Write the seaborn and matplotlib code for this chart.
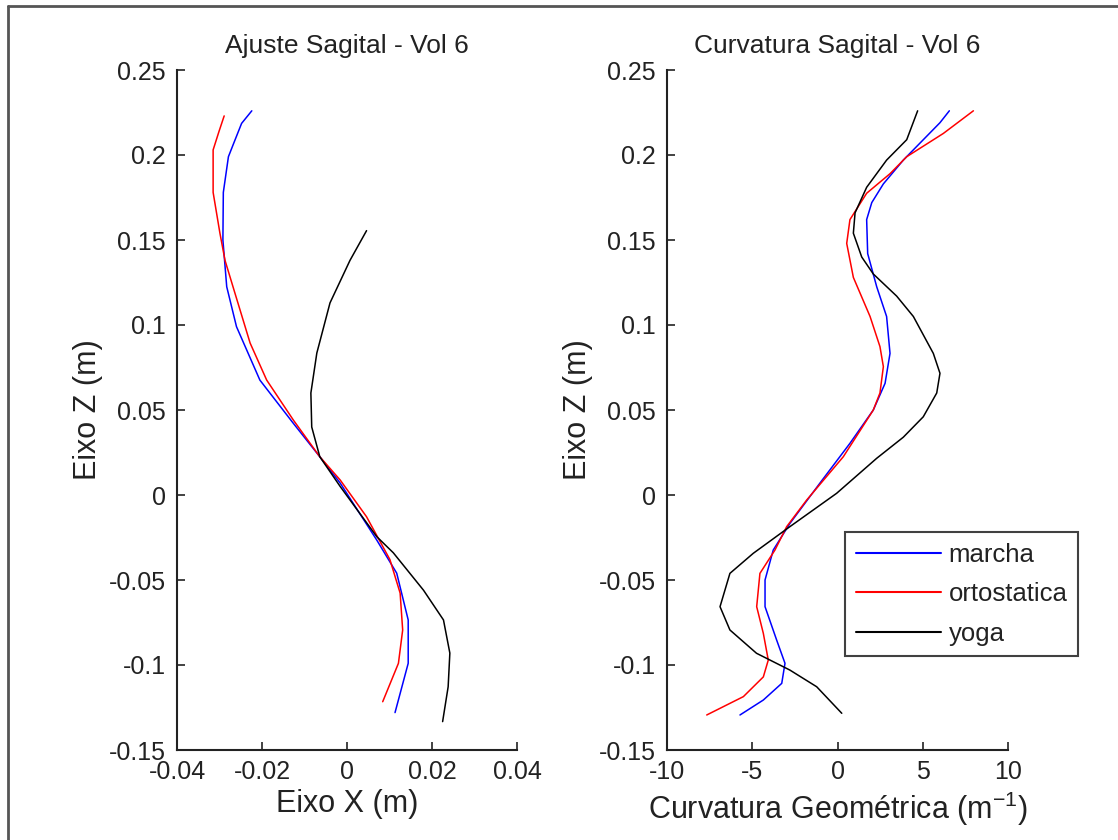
import matplotlib
matplotlib.use("Agg")
import matplotlib.pyplot as plt
from matplotlib.lines import Line2D
from matplotlib.ticker import FuncFormatter, FixedLocator
import seaborn as sns
import pandas as pd

# ---------------- data ----------------
series_names = ["marcha", "ortostatica", "yoga"]
series_colors = ["#0000FF", "#FF0000", "#000000"]

# Left panel: Ajuste Sagital (Eixo X vs Eixo Z)
fit_marcha_x = [-0.0224, -0.0248, -0.0268, -0.0279, -0.0291, -0.0292, -0.0283, -0.0260, -0.0205,
                -0.0127, -0.0064, -0.0016, 0.0070, 0.0117, 0.0144, 0.0144, 0.0113]
fit_marcha_z = [0.226, 0.2186, 0.206, 0.199, 0.178, 0.150, 0.1225, 0.099, 0.0676,
                0.0424, 0.0225, 0.007, -0.0265, -0.046, -0.0735, -0.099, -0.128]

fit_orto_x = [-0.0289, -0.0301, -0.0315, -0.0315, -0.0299, -0.0287, -0.0264, -0.0228, -0.0189,
              -0.0126, -0.0064, -0.0016, 0.0046, 0.0101, 0.0125, 0.0131, 0.0121, 0.0084]
fit_orto_z = [0.223, 0.214, 0.203, 0.178, 0.154, 0.138, 0.119, 0.0894, 0.0676,
              0.044, 0.0225, 0.0088, -0.0128, -0.038, -0.0577, -0.0794, -0.099, -0.1216]

fit_yoga_x = [0.0046, 0.0007, -0.0040, -0.0071, -0.0085, -0.0083, -0.0064, -0.0016, 0.0070,
              0.0109, 0.0180, 0.0227, 0.0242, 0.0238, 0.0225]
fit_yoga_z = [0.1555, 0.138, 0.113, 0.0835, 0.060, 0.040, 0.0225, 0.005, -0.0245,
              -0.034, -0.056, -0.0735, -0.093, -0.1128, -0.1333]

# Right panel: Curvatura Sagital (curvature vs Eixo Z)
curv_marcha_k = [6.56, 6.01, 3.86, 2.69, 2.01, 1.71, 1.77, 2.30, 2.88, 3.08, 2.79, 2.10,
                 0.73, -1.03, -2.79, -3.77, -4.25, -4.25, -3.57, -3.08, -3.27, -4.35, -5.72]
curv_marcha_z = [0.226, 0.219, 0.197, 0.183, 0.172, 0.162, 0.142, 0.1225, 0.105, 0.0833, 0.0657, 0.050,
                 0.0304, 0.007, -0.0167, -0.0324, -0.050, -0.0657, -0.0853, -0.099, -0.1108, -0.1206, -0.1294]

curv_orto_k = [7.97, 6.21, 4.06, 3.08, 1.71, 0.73, 0.54, 0.93, 1.91, 2.49, 2.69, 2.49, 2.10,
               0.34, -1.81, -2.98, -3.67, -4.55, -4.74, -4.35, -4.06, -4.35, -5.52, -7.67]
curv_orto_z = [0.226, 0.2127, 0.199, 0.189, 0.1775, 0.162, 0.148, 0.128, 0.105, 0.0873, 0.0755, 0.060, 0.050,
               0.0225, -0.003, -0.0186, -0.0324, -0.0461, -0.0657, -0.0814, -0.0971, -0.107, -0.1186, -0.1294]

curv_yoga_k = [4.70, 4.06, 2.88, 1.71, 1.03, 0.93, 1.42, 2.10, 3.47, 4.45, 5.62, 6.01, 5.82,
               5.03, 3.86, 2.30, -0.05, -2.79, -4.94, -6.31, -6.89, -6.31, -4.75, -2.79, -1.22, 0.25]
curv_yoga_z = [0.226, 0.209, 0.197, 0.181, 0.166, 0.154, 0.140, 0.130, 0.117, 0.105, 0.0833, 0.0716, 0.060,
               0.046, 0.034, 0.0216, 0.001, -0.0186, -0.0343, -0.0461, -0.0657, -0.0794, -0.0931, -0.103, -0.1128, -0.1284]

left_xticks = [-0.04, -0.02, 0, 0.02, 0.04]
right_xticks = [-10, -5, 0, 5, 10]
zticks = [-0.15, -0.1, -0.05, 0, 0.05, 0.1, 0.15, 0.2, 0.25]

titles = ["Ajuste Sagital - Vol 6", "Curvatura Sagital - Vol 6"]
xlabels = ["Eixo X (m)", "Curvatura Geométrica (m$^{-1}$)"]
ylabel = "Eixo Z (m)"

# ---------------- style ----------------
sns.set_theme(style="ticks")
plt.rcParams["font.family"] = ["Liberation Sans", "DejaVu Sans"]
plt.rcParams["mathtext.fontset"] = "custom"
plt.rcParams["mathtext.rm"] = "Liberation Sans"
plt.rcParams["mathtext.it"] = "Liberation Sans:italic"
plt.rcParams["mathtext.bf"] = "Liberation Sans:bold"
plt.rcParams["axes.unicode_minus"] = False

fig = plt.figure(figsize=(11.18, 8.40), dpi=100)
fig.patch.set_facecolor("white")
W, H = 1118, 840
ax1 = fig.add_axes([177 / W, 1 - 750 / H, 340 / W, 680 / H])
ax2 = fig.add_axes([667 / W, 1 - 750 / H, 341 / W, 680 / H])

def mk(xs, zs, name):
    return pd.DataFrame({"x": xs, "z": zs, "serie": name})

left_df = pd.concat([mk(fit_marcha_x, fit_marcha_z, series_names[0]),
                     mk(fit_orto_x, fit_orto_z, series_names[1]),
                     mk(fit_yoga_x, fit_yoga_z, series_names[2])], ignore_index=True)
right_df = pd.concat([mk(curv_marcha_k, curv_marcha_z, series_names[0]),
                      mk(curv_orto_k, curv_orto_z, series_names[1]),
                      mk(curv_yoga_k, curv_yoga_z, series_names[2])], ignore_index=True)

palette = dict(zip(series_names, series_colors))

sns.lineplot(data=left_df, x="x", y="z", hue="serie", palette=palette, sort=False,
             estimator=None, linewidth=1.1, ax=ax1, legend=False)
sns.lineplot(data=right_df, x="x", y="z", hue="serie", palette=palette, sort=False,
             estimator=None, linewidth=1.1, ax=ax2, legend=True)

fmt = FuncFormatter(lambda v, p: "%g" % round(v, 4))

for ax, xt, title, xl in [(ax1, left_xticks, titles[0], xlabels[0]),
                          (ax2, right_xticks, titles[1], xlabels[1])]:
    ax.set_xlim(xt[0], xt[-1])
    ax.set_ylim(-0.15, 0.25)
    ax.xaxis.set_major_locator(FixedLocator(xt))
    ax.yaxis.set_major_locator(FixedLocator(zticks))
    ax.xaxis.set_major_formatter(fmt)
    ax.yaxis.set_major_formatter(fmt)
    ax.set_facecolor("white")
    for s in ["top", "right"]:
        ax.spines[s].set_visible(False)
    for s in ["left", "bottom"]:
        ax.spines[s].set_linewidth(1.5)
        ax.spines[s].set_color("#222222")
    ax.tick_params(axis="both", direction="in", length=6, width=1.2, colors="#222222",
                   labelsize=18, labelcolor="#222222")
    ax.tick_params(axis="y", pad=8)
    ax.tick_params(axis="x", pad=7)
    ax.set_title(title, fontsize=19, color="#222222", pad=12)
    ax.set_xlabel(xl, fontsize=22, color="#222222", labelpad=4)
    ax.set_ylabel(ylabel, fontsize=22, color="#222222", labelpad=4)
    ax.grid(False)

leg = ax2.legend(loc="upper left", bbox_to_anchor=(0.522, 0.3206), borderaxespad=0,
                 fontsize=18.5, frameon=True, fancybox=False, handlelength=3.3,
                 handletextpad=0.32, labelspacing=0.6, borderpad=0.42)
leg.get_frame().set_edgecolor("#111111")
leg.get_frame().set_linewidth(1.5)
for line in leg.get_lines():
    line.set_linewidth(1.5)
for t in leg.get_texts():
    t.set_color("#222222")

# figure border (top and left)
fig.add_artist(Line2D([7.5 / W, 1], [1 - 5.5 / H, 1 - 5.5 / H], transform=fig.transFigure,
                      color="#555555", linewidth=2))
fig.add_artist(Line2D([7.5 / W, 7.5 / W], [0, 1 - 5.5 / H], transform=fig.transFigure,
                      color="#555555", linewidth=2))

fig.savefig("out.png", dpi=100, facecolor="white")
